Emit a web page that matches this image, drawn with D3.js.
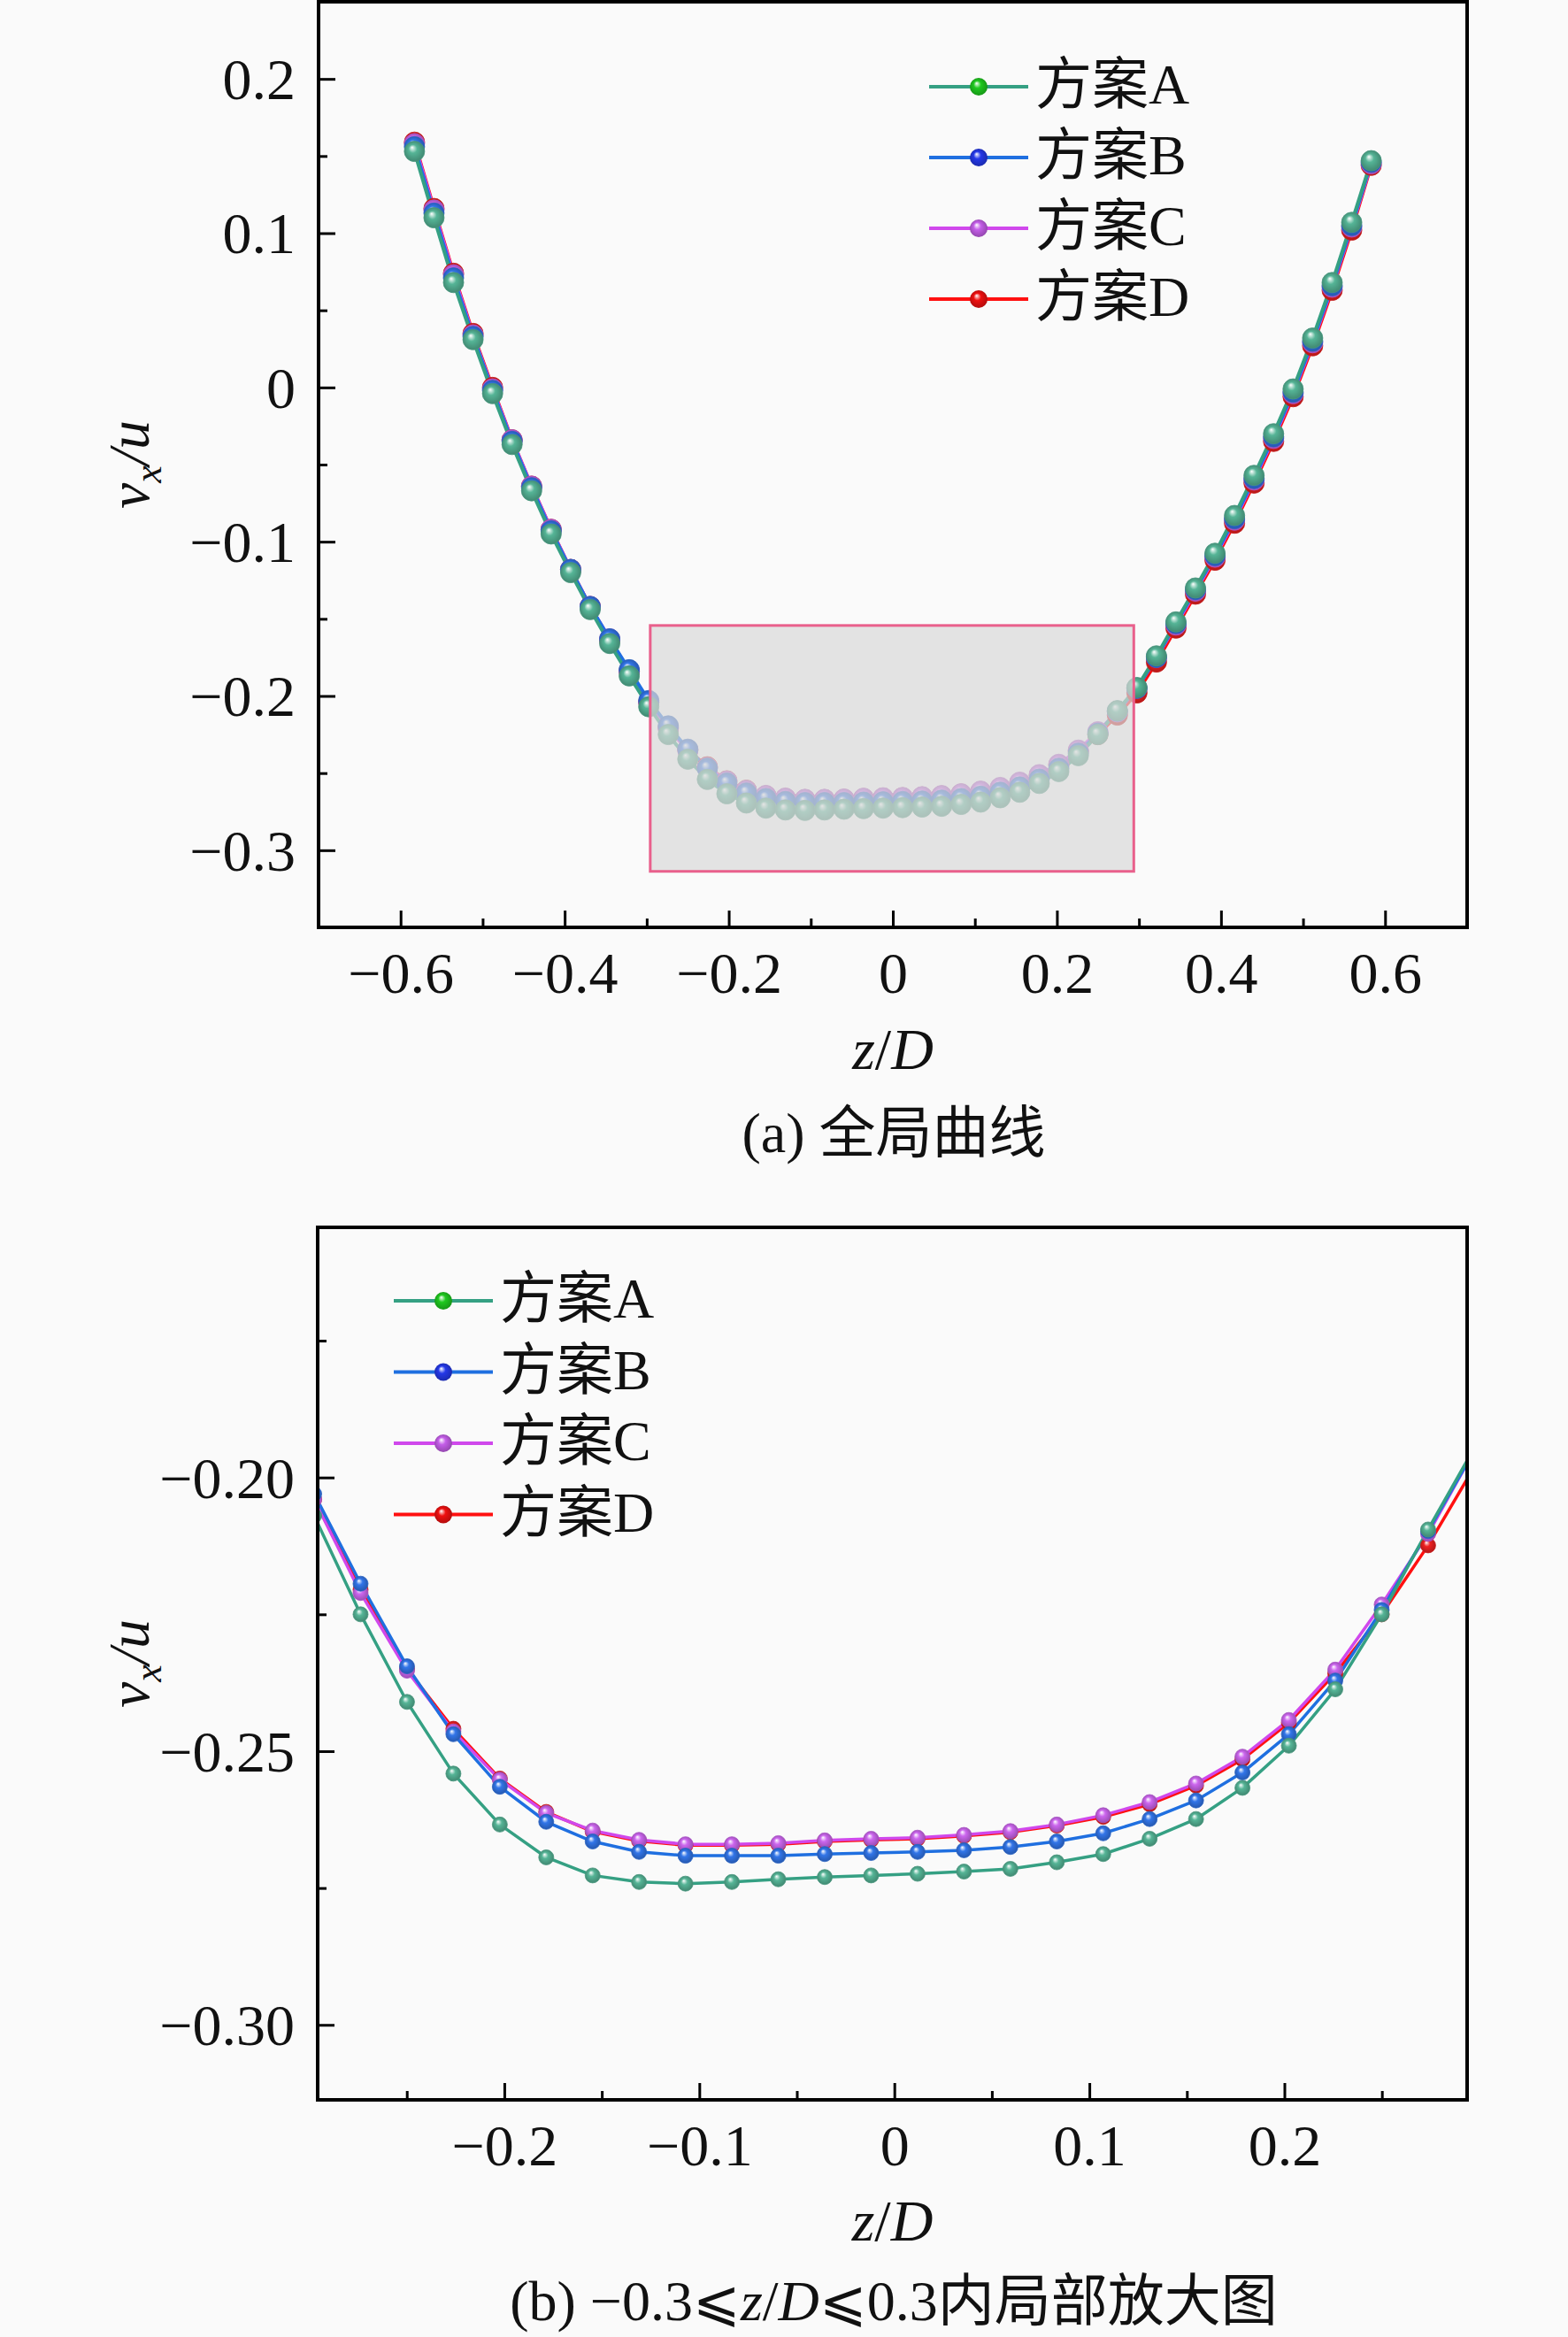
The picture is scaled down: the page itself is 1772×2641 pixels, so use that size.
<!DOCTYPE html>
<html><head><meta charset="utf-8">
<script src="https://cdn.jsdelivr.net/npm/d3@7"></script>
<style>
html,body{margin:0;padding:0;background:#fafafa;}
svg{display:block;}
text{font-family:"Liberation Serif","Noto Sans CJK SC",serif;fill:#111;}
</style></head>
<body>
<svg id="chart" width="1772" height="2641"></svg>
<script>
// ---------- data ----------
const seriesNames = ["方案A","方案B","方案C","方案D"];
const zVals = [-0.5831,-0.5593,-0.5355,-0.5117,-0.4879,-0.4641,-0.4403,-0.4165,-0.3927,-0.3689,-0.3451,-0.3213,-0.2975,
  -0.2737,-0.2499,-0.2261,-0.2023,-0.1785,-0.1547,-0.1309,-0.1071,-0.0833,-0.0595,-0.0357,-0.0119,
  0.0119,0.0357,0.0595,0.0833,0.1071,0.1309,0.1547,0.1785,0.2023,0.2261,0.2499,0.2737,
  0.2975,0.3213,0.3451,0.3689,0.3927,0.4165,0.4403,0.4641,0.4879,0.5117,0.5355,0.5593,0.5831];
const vA = [0.153,0.110,0.068,0.031,-0.004,-0.037,-0.067,-0.095,-0.120,-0.144,-0.166,-0.187,-0.207,
  -0.2250,-0.2410,-0.2541,-0.2634,-0.2694,-0.2727,-0.2739,-0.2742,-0.2739,-0.2734,-0.2730,-0.2727,
  -0.2724,-0.2720,-0.2715,-0.2703,-0.2688,-0.2660,-0.2624,-0.2567,-0.2490,-0.2387,-0.2250,-0.2095,
  -0.1945,-0.174,-0.152,-0.130,-0.1075,-0.083,-0.057,-0.030,-0.001,0.032,0.068,0.107,0.147];
const vB = [0.156,0.113,0.071,0.033,-0.002,-0.035,-0.065,-0.093,-0.118,-0.142,-0.163,-0.183,-0.203,
  -0.2194,-0.2345,-0.2469,-0.2565,-0.2629,-0.2665,-0.2684,-0.2691,-0.2691,-0.2691,-0.2688,-0.2686,
  -0.2684,-0.2681,-0.2675,-0.2665,-0.2650,-0.2624,-0.2590,-0.2539,-0.2469,-0.2371,-0.2242,-0.2098,
  -0.195,-0.175,-0.153,-0.131,-0.109,-0.085,-0.059,-0.032,-0.003,0.030,0.066,0.105,0.146];
const vC = [0.158,0.115,0.073,0.034,-0.001,-0.034,-0.064,-0.092,-0.118,-0.142,-0.163,-0.184,-0.204,
  -0.2211,-0.2353,-0.2464,-0.2552,-0.2613,-0.2645,-0.2662,-0.2670,-0.2670,-0.2668,-0.2663,-0.2660,
  -0.2658,-0.2653,-0.2646,-0.2634,-0.2617,-0.2593,-0.2559,-0.2510,-0.2443,-0.2351,-0.2232,-0.2103,
  -0.195,-0.175,-0.154,-0.132,-0.110,-0.086,-0.060,-0.033,-0.004,0.029,0.065,0.104,0.145];
const vD = [0.159,0.116,0.074,0.035,0.000,-0.034,-0.064,-0.092,-0.118,-0.142,-0.164,-0.184,-0.204,
  -0.2205,-0.2350,-0.2459,-0.2550,-0.2611,-0.2647,-0.2664,-0.2672,-0.2672,-0.2670,-0.2665,-0.2662,
  -0.2660,-0.2655,-0.2648,-0.2636,-0.2620,-0.2597,-0.2563,-0.2515,-0.2448,-0.2358,-0.2250,-0.2124,
  -0.198,-0.178,-0.156,-0.134,-0.112,-0.088,-0.062,-0.035,-0.006,0.027,0.063,0.102,0.144];

// axis ticks
const topXDomain = [-0.7, 0.7];
const topYDomain = [-0.35, 0.25];
const topXTicks = [-0.6,-0.4,-0.2,0,0.2,0.4,0.6];
const topXLabels = ["−0.6","−0.4","−0.2","0","0.2","0.4","0.6"];
const topXMinor = [-0.7,-0.5,-0.3,-0.1,0.1,0.3,0.5,0.7];
const topYTicks = [0.2,0.1,0,-0.1,-0.2,-0.3];
const topYLabels = ["0.2","0.1","0","−0.1","−0.2","−0.3"];
const topYMinor = [0.25,0.15,0.05,-0.05,-0.15,-0.25,-0.35];

const zoomXDomain = [-0.2957, 0.2937];
const zoomYDomain = [-0.3137, -0.1543];
const botXTicks = [-0.2,-0.1,0,0.1,0.2];
const botXLabels = ["−0.2","−0.1","0","0.1","0.2"];
const botXMinor = [-0.25,-0.15,-0.05,0.05,0.15,0.25];
const botYTicks = [-0.20,-0.25,-0.30];
const botYLabels = ["−0.20","−0.25","−0.30"];
const botYMinor = [-0.175,-0.225,-0.275];

const captionA = "(a) 全局曲线";

// ---------- styling ----------
const lineColors = ["#35a083","#1f6fe0","#d048ec","#ff1010"];
const markColors = ["#55b496","#3275e8","#cc66ee","#ee2020"];
const legendMarkColors = ["#1fc81f","#2438e8","#c45ee8","#ee1010"];

const svg = d3.select("#chart");
const defs = svg.append("defs");
function grad(id, c){
  const g = defs.append("radialGradient").attr("id", id)
    .attr("cx","50%").attr("cy","50%").attr("r","55%").attr("fx","38%").attr("fy","30%");
  g.append("stop").attr("offset","0%").attr("stop-color","#ffffff");
  g.append("stop").attr("offset","38%").attr("stop-color", c);
  g.append("stop").attr("offset","100%").attr("stop-color", d3.color(c).darker(0.9));
}
markColors.forEach((c,i)=>grad("gm"+i, c));
legendMarkColors.forEach((c,i)=>grad("gl"+i, c));

const series = [vA, vB, vC, vD];
const drawOrder = [3,2,1,0];

function panel(cfg){
  const x = d3.scaleLinear().domain(cfg.xDomain).range([cfg.left, cfg.right]);
  const y = d3.scaleLinear().domain(cfg.yDomain).range([cfg.bottom, cfg.top]);
  const g = svg.append("g");
  const clipId = "clip" + cfg.id;
  defs.append("clipPath").attr("id", clipId).append("rect")
    .attr("x", cfg.left).attr("y", cfg.top).attr("width", cfg.right-cfg.left).attr("height", cfg.bottom-cfg.top);
  const plot = g.append("g").attr("clip-path", `url(#${clipId})`);
  const line = d3.line().x((d,i)=>x(zVals[i])).y(d=>y(d));
  drawOrder.forEach(si=>{
    plot.append("path").datum(series[si]).attr("d", line)
      .attr("fill","none").attr("stroke", lineColors[si]).attr("stroke-width", cfg.lw)
      .attr("stroke-linejoin","round");
  });
  drawOrder.forEach(si=>{
    plot.append("g").selectAll("circle").data(series[si]).join("circle")
      .attr("cx",(d,i)=>x(zVals[i])).attr("cy", d=>y(d)).attr("r", cfg.mr)
      .attr("fill", `url(#gm${si})`).attr("stroke", d3.color(markColors[si]).darker(0.5)).attr("stroke-width",0.8);
  });
  if (cfg.zoomRect){
    g.append("rect")
      .attr("x", x(zoomXDomain[0])).attr("y", y(zoomYDomain[1]))
      .attr("width", x(zoomXDomain[1]) - x(zoomXDomain[0]))
      .attr("height", y(zoomYDomain[0]) - y(zoomYDomain[1]))
      .attr("fill","#d8d8d8").attr("fill-opacity",0.7)
      .attr("stroke","#e9608c").attr("stroke-width",3);
  }
  // axes
  const xa = g.append("g").attr("transform", `translate(0,${cfg.bottom})`)
    .call(d3.axisBottom(x).tickValues(cfg.xTicks).tickSize(-19).tickFormat((d,i)=>cfg.xLabels[i]));
  xa.select(".domain").remove();
  xa.selectAll("line").attr("stroke","#000").attr("stroke-width",3);
  xa.selectAll("text").attr("y", cfg.xLabelOff).attr("dy", null)
    .style("font-size","66px").style("font-family","Liberation Serif").attr("fill","#111");
  const xm = g.append("g").attr("transform", `translate(0,${cfg.bottom})`)
    .call(d3.axisBottom(x).tickValues(cfg.xMinor).tickSize(-10).tickFormat(""));
  xm.select(".domain").remove();
  xm.selectAll("line").attr("stroke","#000").attr("stroke-width",3);

  const ya = g.append("g").attr("transform", `translate(${cfg.left},0)`)
    .call(d3.axisLeft(y).tickValues(cfg.yTicks).tickSize(-19).tickFormat((d,i)=>cfg.yLabels[i]));
  ya.select(".domain").remove();
  ya.selectAll("line").attr("stroke","#000").attr("stroke-width",3);
  ya.selectAll("text").attr("x", -26).attr("dy","0.34em")
    .style("font-size","66px").style("font-family","Liberation Serif").attr("fill","#111");
  const ym = g.append("g").attr("transform", `translate(${cfg.left},0)`)
    .call(d3.axisLeft(y).tickValues(cfg.yMinor).tickSize(-10).tickFormat(""));
  ym.select(".domain").remove();
  ym.selectAll("line").attr("stroke","#000").attr("stroke-width",3);

  // frame
  g.append("rect").attr("x", cfg.left).attr("y", cfg.top)
    .attr("width", cfg.right-cfg.left).attr("height", cfg.bottom-cfg.top)
    .attr("fill","none").attr("stroke","#000").attr("stroke-width",4);

  // y label
  const yl = g.append("text").attr("transform", `translate(168,${(cfg.top+cfg.bottom)/2}) rotate(-90)`)
    .attr("text-anchor","middle").style("font-size","66px").style("font-style","italic");
  yl.append("tspan").text("v");
  yl.append("tspan").text("x").attr("dy", 14).style("font-size","44px");
  yl.append("tspan").text("/u").attr("dy", -14);

  // x label
  const xl = g.append("text").attr("x", (cfg.left+cfg.right)/2).attr("y", cfg.xTitleY)
    .attr("text-anchor","middle").style("font-size","66px");
  xl.append("tspan").text("z").style("font-style","italic");
  xl.append("tspan").text("/");
  xl.append("tspan").text("D").style("font-style","italic");

  // legend
  seriesNames.forEach((name, i)=>{
    const ly = cfg.legY + i*cfg.legStep;
    g.append("line").attr("x1", cfg.legX).attr("x2", cfg.legX+112).attr("y1", ly).attr("y2", ly)
      .attr("stroke", lineColors[i]).attr("stroke-width",4);
    g.append("circle").attr("cx", cfg.legX+56).attr("cy", ly).attr("r",10)
      .attr("fill", `url(#gl${i})`);
    g.append("text").attr("x", cfg.legX+120).attr("y", ly).attr("dy","0.3em")
      .style("font-size","64px").text(name);
  });
  return {x,y,g};
}

panel({id:"a", left:360, right:1658, top:2, bottom:1048,
  xDomain: topXDomain, yDomain: topYDomain,
  xTicks: topXTicks, xLabels: topXLabels, xMinor: topXMinor,
  yTicks: topYTicks, yLabels: topYLabels, yMinor: topYMinor,
  lw: 4, mr: 11.5, zoomRect: true, xLabelOff: 74, xTitleY: 1208,
  legX: 1050, legY: 98, legStep: 80});

panel({id:"b", left:359, right:1658, top:1387, bottom:2373,
  xDomain: zoomXDomain, yDomain: zoomYDomain,
  xTicks: botXTicks, xLabels: botXLabels, xMinor: botXMinor,
  yTicks: botYTicks, yLabels: botYLabels, yMinor: botYMinor,
  lw: 3.5, mr: 8.5, zoomRect: false, xLabelOff: 74, xTitleY: 2532,
  legX: 445, legY: 1470, legStep: 80.5});

// captions
svg.append("text").attr("x", 1010).attr("y", 1302).attr("text-anchor","middle")
  .style("font-size","64px").text(captionA);
const cb = svg.append("text").attr("x", 1010).attr("y", 2622).attr("text-anchor","middle")
  .style("font-size","64px");
cb.append("tspan").text("(b) −0.3⩽");
cb.append("tspan").text("z").style("font-style","italic");
cb.append("tspan").text("/");
cb.append("tspan").text("D").style("font-style","italic");
cb.append("tspan").text("⩽0.3内局部放大图");
</script>
</body></html>
